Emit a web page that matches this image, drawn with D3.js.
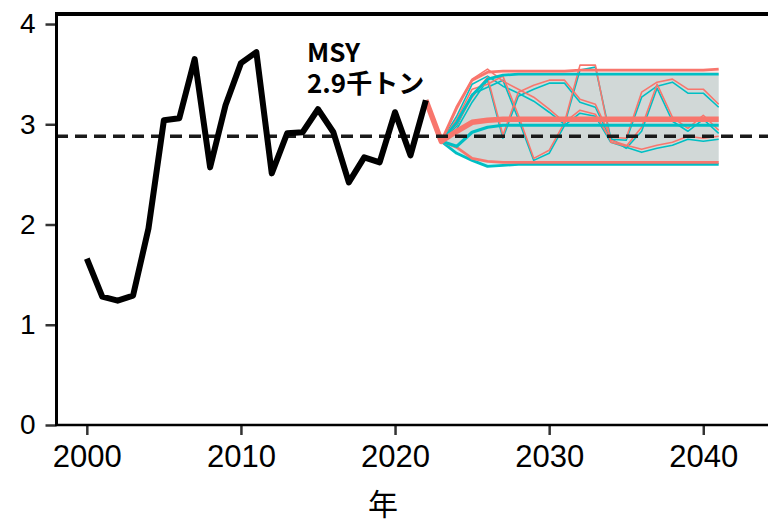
<!DOCTYPE html>
<html>
<head>
<meta charset="utf-8">
<script src="https://cdn.jsdelivr.net/npm/d3@7"></script>
<style>
body { margin: 0; background: #fff; }
text { font-family: "Liberation Sans", Arial, sans-serif; }
</style>
</head>
<body>
<script>
// Catch history (thousand tons)
var hist_years = [2000, 2001, 2002, 2003, 2004, 2005, 2006, 2007, 2008, 2009, 2010, 2011,
    2012, 2013, 2014, 2015, 2016, 2017, 2018, 2019, 2020, 2021, 2022];
var hist_catch = [1.66, 1.28, 1.24, 1.29, 1.96, 3.04, 3.06, 3.65, 2.57, 3.19, 3.61, 3.72,
    2.51, 2.91, 2.92, 3.15, 2.92, 2.42, 2.67, 2.62, 3.12, 2.69, 3.24];

// Projection years
var proj_years = [2022, 2023, 2024, 2025, 2026, 2027, 2028, 2029, 2030, 2031, 2032, 2033,
    2034, 2035, 2036, 2037, 2038, 2039, 2040, 2041];

// Scenario 1 (red)
var red_upper  = [3.24, 2.83, 3.17, 3.44, 3.52, 3.53, 3.53, 3.53, 3.53, 3.53, 3.54, 3.54, 3.54, 3.54, 3.54, 3.54, 3.54, 3.54, 3.54, 3.55];
var red_lower  = [3.24, 2.83, 2.77, 2.66, 2.63, 2.62, 2.62, 2.62, 2.62, 2.62, 2.62, 2.62, 2.62, 2.62, 2.62, 2.62, 2.62, 2.62, 2.62, 2.62];
var red_median = [3.24, 2.83, 2.93, 3.02, 3.04, 3.05, 3.05, 3.05, 3.05, 3.05, 3.05, 3.05, 3.05, 3.05, 3.05, 3.05, 3.05, 3.05, 3.05, 3.05];
var red_run1   = [3.24, 2.83, 3.00, 3.27, 3.47, 2.89, 3.32, 3.39, 3.44, 3.44, 3.25, 3.20, 2.87, 2.86, 3.32, 3.42, 3.45, 3.35, 3.35, 3.20];
var red_run2   = [3.24, 2.83, 3.15, 3.45, 3.55, 3.43, 3.35, 3.27, 3.15, 3.02, 3.59, 3.59, 2.82, 2.78, 2.97, 3.40, 3.07, 2.96, 3.09, 2.94];
var red_run3   = [3.24, 2.83, 3.05, 3.35, 3.40, 3.48, 3.09, 2.66, 2.74, 3.02, 3.14, 3.10, 2.84, 2.79, 2.75, 2.79, 2.82, 2.88, 2.86, 2.88];

// Scenario 2 (teal)
var teal_upper  = [3.24, 2.83, 3.02, 3.29, 3.45, 3.49, 3.50, 3.50, 3.50, 3.50, 3.50, 3.50, 3.50, 3.50, 3.50, 3.50, 3.50, 3.50, 3.50, 3.50];
var teal_lower  = [3.24, 2.83, 2.71, 2.64, 2.58, 2.59, 2.60, 2.60, 2.60, 2.60, 2.60, 2.60, 2.60, 2.60, 2.60, 2.60, 2.60, 2.60, 2.60, 2.60];
var teal_median = [3.24, 2.83, 2.78, 2.92, 2.97, 2.99, 2.99, 2.99, 2.99, 2.99, 2.99, 2.99, 2.99, 2.99, 2.99, 2.99, 2.99, 2.99, 2.99, 2.99];
var teal_run1   = [3.24, 2.83, 2.95, 3.22, 3.44, 2.86, 3.28, 3.35, 3.41, 3.41, 3.22, 3.17, 2.85, 2.84, 3.27, 3.38, 3.42, 3.31, 3.31, 3.17];
var teal_run2   = [3.24, 2.83, 3.08, 3.40, 3.48, 3.38, 3.31, 3.23, 3.12, 3.00, 3.54, 3.57, 2.86, 2.76, 2.93, 3.36, 3.03, 2.93, 3.05, 2.91];
var teal_run3   = [3.24, 2.83, 2.98, 3.30, 3.37, 3.44, 3.05, 2.64, 2.71, 2.99, 3.11, 3.08, 2.82, 2.77, 2.72, 2.76, 2.79, 2.85, 2.83, 2.85];

var msy = 2.88;
var msy_label = ['MSY', '2.9千トン'];
var x_ticks = [2000, 2010, 2020, 2030, 2040];
var y_ticks = [0, 1, 2, 3, 4];

var RED = '#F8766D', TEAL = '#00BFC4';

var width = 768, height = 522;
var svg = d3.select('body').append('svg')
    .attr('width', width)
    .attr('height', height);

var x = d3.scaleLinear().domain([1998, 2044.2]).range([56, 768]);
var y = d3.scaleLinear().domain([0, 4.1]).range([425, 14]);

// Zip years with values
function pts(years, vals) {
    return years.map(function (yr, i) { return [yr, vals[i]]; });
}

var line = d3.line()
    .x(function (d) { return x(d[0]); })
    .y(function (d) { return y(d[1]); });

var area = d3.area()
    .x(function (d) { return x(d[0]); })
    .y0(function (d) { return y(d[1]); })
    .y1(function (d) { return y(d[2]); });

function band(lo, hi) {
    return proj_years.map(function (yr, i) { return [yr, lo[i], hi[i]]; });
}

// Ribbons
svg.append('path')
    .attr('d', area(band(teal_lower, teal_upper)))
    .attr('fill', TEAL).attr('fill-opacity', 0.22);
svg.append('path')
    .attr('d', area(band(red_lower, red_upper)))
    .attr('fill', RED).attr('fill-opacity', 0.2);

// Projection lines
function draw(vals, color, w) {
    svg.append('path')
        .attr('d', line(pts(proj_years, vals)))
        .attr('fill', 'none')
        .attr('stroke', color)
        .attr('stroke-width', w)
        .attr('stroke-linejoin', 'round');
}

[teal_run1, teal_run2, teal_run3].forEach(function (v) { draw(v, TEAL, 1.6); });
[red_run1, red_run2, red_run3].forEach(function (v) { draw(v, RED, 1.6); });
draw(teal_upper, TEAL, 2.8);
draw(teal_lower, TEAL, 2.8);
draw(red_upper, RED, 2.8);
draw(red_lower, RED, 2.8);
draw(teal_median, TEAL, 3.2);
draw(red_median, RED, 5.5);

// MSY reference line
svg.append('line')
    .attr('x1', x.range()[0]).attr('x2', x.range()[1])
    .attr('y1', y(msy)).attr('y2', y(msy))
    .attr('stroke', '#1a1a1a')
    .attr('stroke-width', 3.5)
    .attr('stroke-dasharray', '12,7');

// History
svg.append('path')
    .attr('d', line(pts(hist_years, hist_catch)))
    .attr('fill', 'none')
    .attr('stroke', '#000')
    .attr('stroke-width', 6)
    .attr('stroke-linejoin', 'round');

// MSY label, one text per line
svg.selectAll('text.msy')
    .data(msy_label)
    .enter()
    .append('text')
    .attr('class', 'msy')
    .attr('x', 307)
    .attr('y', function (d, i) { return 62 + i * 31; })
    .style('font-family', '"Noto Sans CJK JP", "Noto Sans", sans-serif')
    .style('font-weight', 'bold')
    .style('font-size', '26px')
    .text(function (d) { return d; });

// Axes
var xa = svg.append('g')
    .attr('transform', 'translate(0,425)')
    .call(d3.axisBottom(x).tickValues(x_ticks).tickFormat(d3.format('d')).tickSize(10).tickPadding(10));
var ya = svg.append('g')
    .attr('transform', 'translate(56.5,0)')
    .call(d3.axisLeft(y).tickValues(y_ticks).tickFormat(d3.format('d')).tickSize(11).tickPadding(10));

[xa, ya].forEach(function (g) {
    g.select('.domain').remove();
    g.selectAll('.tick line').attr('stroke', '#333').attr('stroke-width', 2.5);
    g.selectAll('.tick text')
        .attr('fill', '#000')
        .style('font-family', '"Liberation Sans", Arial, sans-serif');
});
xa.selectAll('.tick text').style('font-size', '31px');
ya.selectAll('.tick text').style('font-size', '28px');

// Panel border lines
svg.append('line')
    .attr('x1', 56).attr('x2', 768).attr('y1', 425).attr('y2', 425)
    .attr('stroke', '#000').attr('stroke-width', 2.5);
svg.append('line')
    .attr('x1', 56.5).attr('x2', 56.5).attr('y1', 12).attr('y2', 426)
    .attr('stroke', '#000').attr('stroke-width', 3);
svg.append('line')
    .attr('x1', 55).attr('x2', 768).attr('y1', 14).attr('y2', 14)
    .attr('stroke', '#000').attr('stroke-width', 4);

// Axis title
svg.append('text')
    .attr('x', 383)
    .attr('y', 515)
    .attr('text-anchor', 'middle')
    .style('font-family', '"Noto Sans CJK JP", sans-serif')
    .style('font-size', '30px')
    .text('年');
</script>
</body>
</html>
